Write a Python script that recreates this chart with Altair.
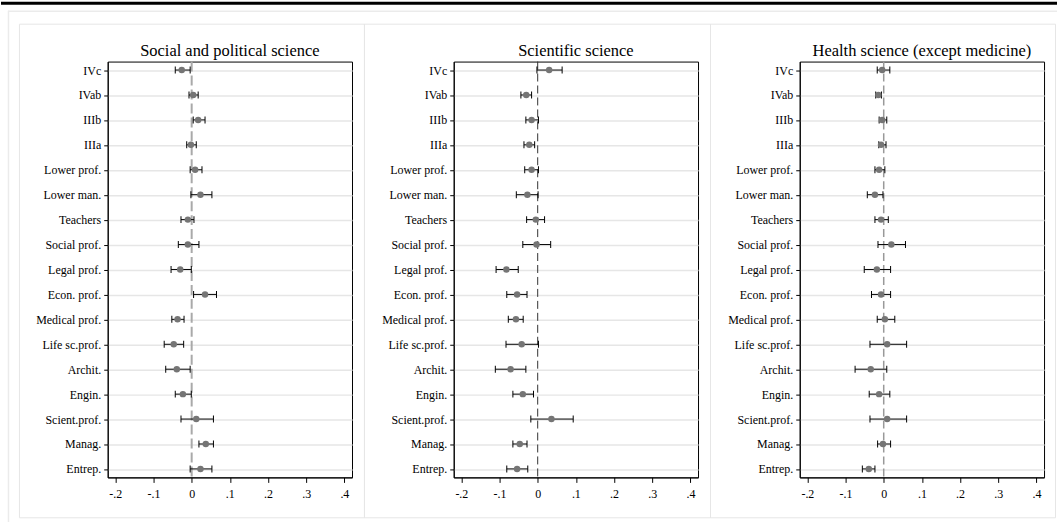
import altair as alt
import pandas as pd

# Occupational categories, top to bottom
CATEGORIES = [
    "IVc", "IVab", "IIIb", "IIIa", "Lower prof.", "Lower man.", "Teachers",
    "Social prof.", "Legal prof.", "Econ. prof.", "Medical prof.",
    "Life sc.prof.", "Archit.", "Engin.", "Scient.prof.", "Manag.", "Entrep.",
]

PANEL_TITLES = [
    "Social and political science",
    "Scientific science",
    "Health science (except medicine)",
]

# Point estimates and 95% confidence bounds per field of study
SOC_EST = [-0.026, 0.004, 0.017, -0.002, 0.009, 0.023, -0.010, -0.010, -0.030,
           0.035, -0.037, -0.047, -0.039, -0.023, 0.012, 0.037, 0.023]
SOC_LO = [-0.043, -0.007, 0.004, -0.013, -0.004, -0.002, -0.028, -0.035, -0.054,
          0.005, -0.052, -0.072, -0.068, -0.043, -0.028, 0.019, -0.004]
SOC_HI = [-0.004, 0.017, 0.035, 0.012, 0.027, 0.053, 0.006, 0.019, -0.001,
          0.065, -0.020, -0.021, -0.004, -0.001, 0.057, 0.057, 0.053]

SCI_EST = [0.030, -0.030, -0.016, -0.022, -0.016, -0.027, -0.005, -0.003, -0.082,
           -0.054, -0.057, -0.042, -0.071, -0.039, 0.036, -0.047, -0.054]
SCI_LO = [-0.002, -0.044, -0.031, -0.036, -0.034, -0.056, -0.029, -0.039, -0.109,
          -0.081, -0.077, -0.083, -0.111, -0.065, -0.018, -0.065, -0.081]
SCI_HI = [0.064, -0.016, 0.002, -0.008, 0.002, 0.001, 0.018, 0.034, -0.051,
          -0.028, -0.038, 0.002, -0.031, -0.011, 0.093, -0.028, -0.026]

HEA_EST = [-0.004, -0.014, -0.004, -0.007, -0.012, -0.023, -0.007, 0.020, -0.018,
           -0.007, 0.003, 0.009, -0.034, -0.012, 0.009, -0.002, -0.039]
HEA_LO = [-0.017, -0.021, -0.012, -0.013, -0.023, -0.043, -0.023, -0.015, -0.051,
          -0.032, -0.017, -0.036, -0.075, -0.038, -0.036, -0.016, -0.056]
HEA_HI = [0.016, -0.006, 0.008, 0.006, 0.003, -0.002, 0.012, 0.057, 0.018,
          0.018, 0.029, 0.060, 0.008, 0.016, 0.060, 0.018, -0.023]

TICK_VALUES = [-0.2, -0.1, 0, 0.1, 0.2, 0.3, 0.4]
TICK_LABELS = ["-.2", "-.1", "0", ".1", ".2", ".3", ".4"]
X_DOMAIN = [-0.22, 0.42]

# reference line style at zero, one per panel
ZERO_STYLES = [
    dict(color="#a9a9a9", strokeWidth=2, strokeDash=[10, 4]),
    dict(color="#333333", strokeWidth=1, strokeDash=[8, 4]),
    dict(color="#999999", strokeWidth=1.5, strokeDash=[8, 4]),
]

FONT = "Liberation Serif"
W, H = 245, 417
SPACING = 102

label_expr = "[" + ",".join(f"'{s}'" for s in TICK_LABELS) + "][round(datum.value*10)+2]"
one_row = pd.DataFrame({"k": [0]})


def panel(idx, est, lo, hi):
    df = pd.DataFrame({"cat": CATEGORIES, "est": est, "lo": lo, "hi": hi})
    base = alt.Chart(df)
    x_scale = alt.Scale(domain=X_DOMAIN, nice=False, zero=False)
    x_axis = alt.Axis(title=None, values=TICK_VALUES, labelExpr=label_expr,
                      grid=False, tickSize=5, labelPadding=6, labelFlush=False,
                      labelOverlap=False)
    y_enc = alt.Y("cat:N", sort=CATEGORIES,
                  scale=alt.Scale(type="point", padding=0.34),
                  axis=alt.Axis(title=None, grid=True, gridColor="#e6e6e6",
                                gridWidth=1.5, tickSize=4, labelPadding=3))

    # light frame around each panel
    frame = alt.Chart(one_row).mark_rect(fill=None, stroke="#e6e6e6", strokeWidth=1).encode(
        x=alt.value(-88.5 if idx == 0 else -89.5), x2=alt.value(257.5 if idx < 2 else 256.5),
        y=alt.value(-37.5), y2=alt.value(457.5))

    # panel heading, centred over the plot area
    heading = alt.Chart(pd.DataFrame({"t": [PANEL_TITLES[idx]]})).mark_text(
        font=FONT, fontSize=16.5, color="black", align="center", baseline="alphabetic"
    ).encode(text="t:N", x=alt.value(W / 2), y=alt.value(-6))

    zero = alt.Chart(pd.DataFrame({"z": [0.0]})).mark_rule(**ZERO_STYLES[idx]).encode(
        x=alt.X("z:Q", scale=x_scale, axis=x_axis))
    ci = base.mark_rule(color="black", strokeWidth=1).encode(
        x=alt.X("lo:Q", scale=x_scale, axis=x_axis), x2="hi:Q", y=y_enc)
    cap_lo = base.mark_tick(color="black", thickness=1, size=7, opacity=1).encode(
        x="lo:Q", y=y_enc)
    cap_hi = base.mark_tick(color="black", thickness=1, size=7, opacity=1).encode(
        x="hi:Q", y=y_enc)
    pts = base.mark_circle(size=42, color="#757575", opacity=1).encode(
        x="est:Q", y=y_enc)

    layers = [frame, heading, zero, ci, cap_lo, cap_hi, pts]
    if idx == 0:
        # black rule across the top of the page and the outer border lines
        top_bar = alt.Chart(one_row).mark_rect(color="black").encode(
            x=alt.value(-107), x2=alt.value(952), y=alt.value(-60), y2=alt.value(-57))
        outer_top = alt.Chart(one_row).mark_rule(color="#ebebeb", strokeWidth=1.5).encode(
            x=alt.value(-100), x2=alt.value(952), y=alt.value(-50.5))
        outer_left = alt.Chart(one_row).mark_rule(color="#ebebeb", strokeWidth=1.5).encode(
            x=alt.value(-99.5), y=alt.value(-51), y2=alt.value(462))
        layers = [top_bar, outer_top, outer_left] + layers

    return alt.layer(*layers).properties(width=W, height=H)


chart = alt.hconcat(
    panel(0, SOC_EST, SOC_LO, SOC_HI),
    panel(1, SCI_EST, SCI_LO, SCI_HI),
    panel(2, HEA_EST, HEA_LO, HEA_HI),
    spacing=SPACING, bounds="flush", padding=0, background="white",
).configure_view(
    stroke="black", strokeWidth=1
).configure_axis(
    labelFont=FONT, labelFontSize=12, labelColor="black",
    domainColor="black", tickColor="black", domainWidth=1,
)

chart.save("out.html", embed_options={"renderer": "svg", "actions": False})
